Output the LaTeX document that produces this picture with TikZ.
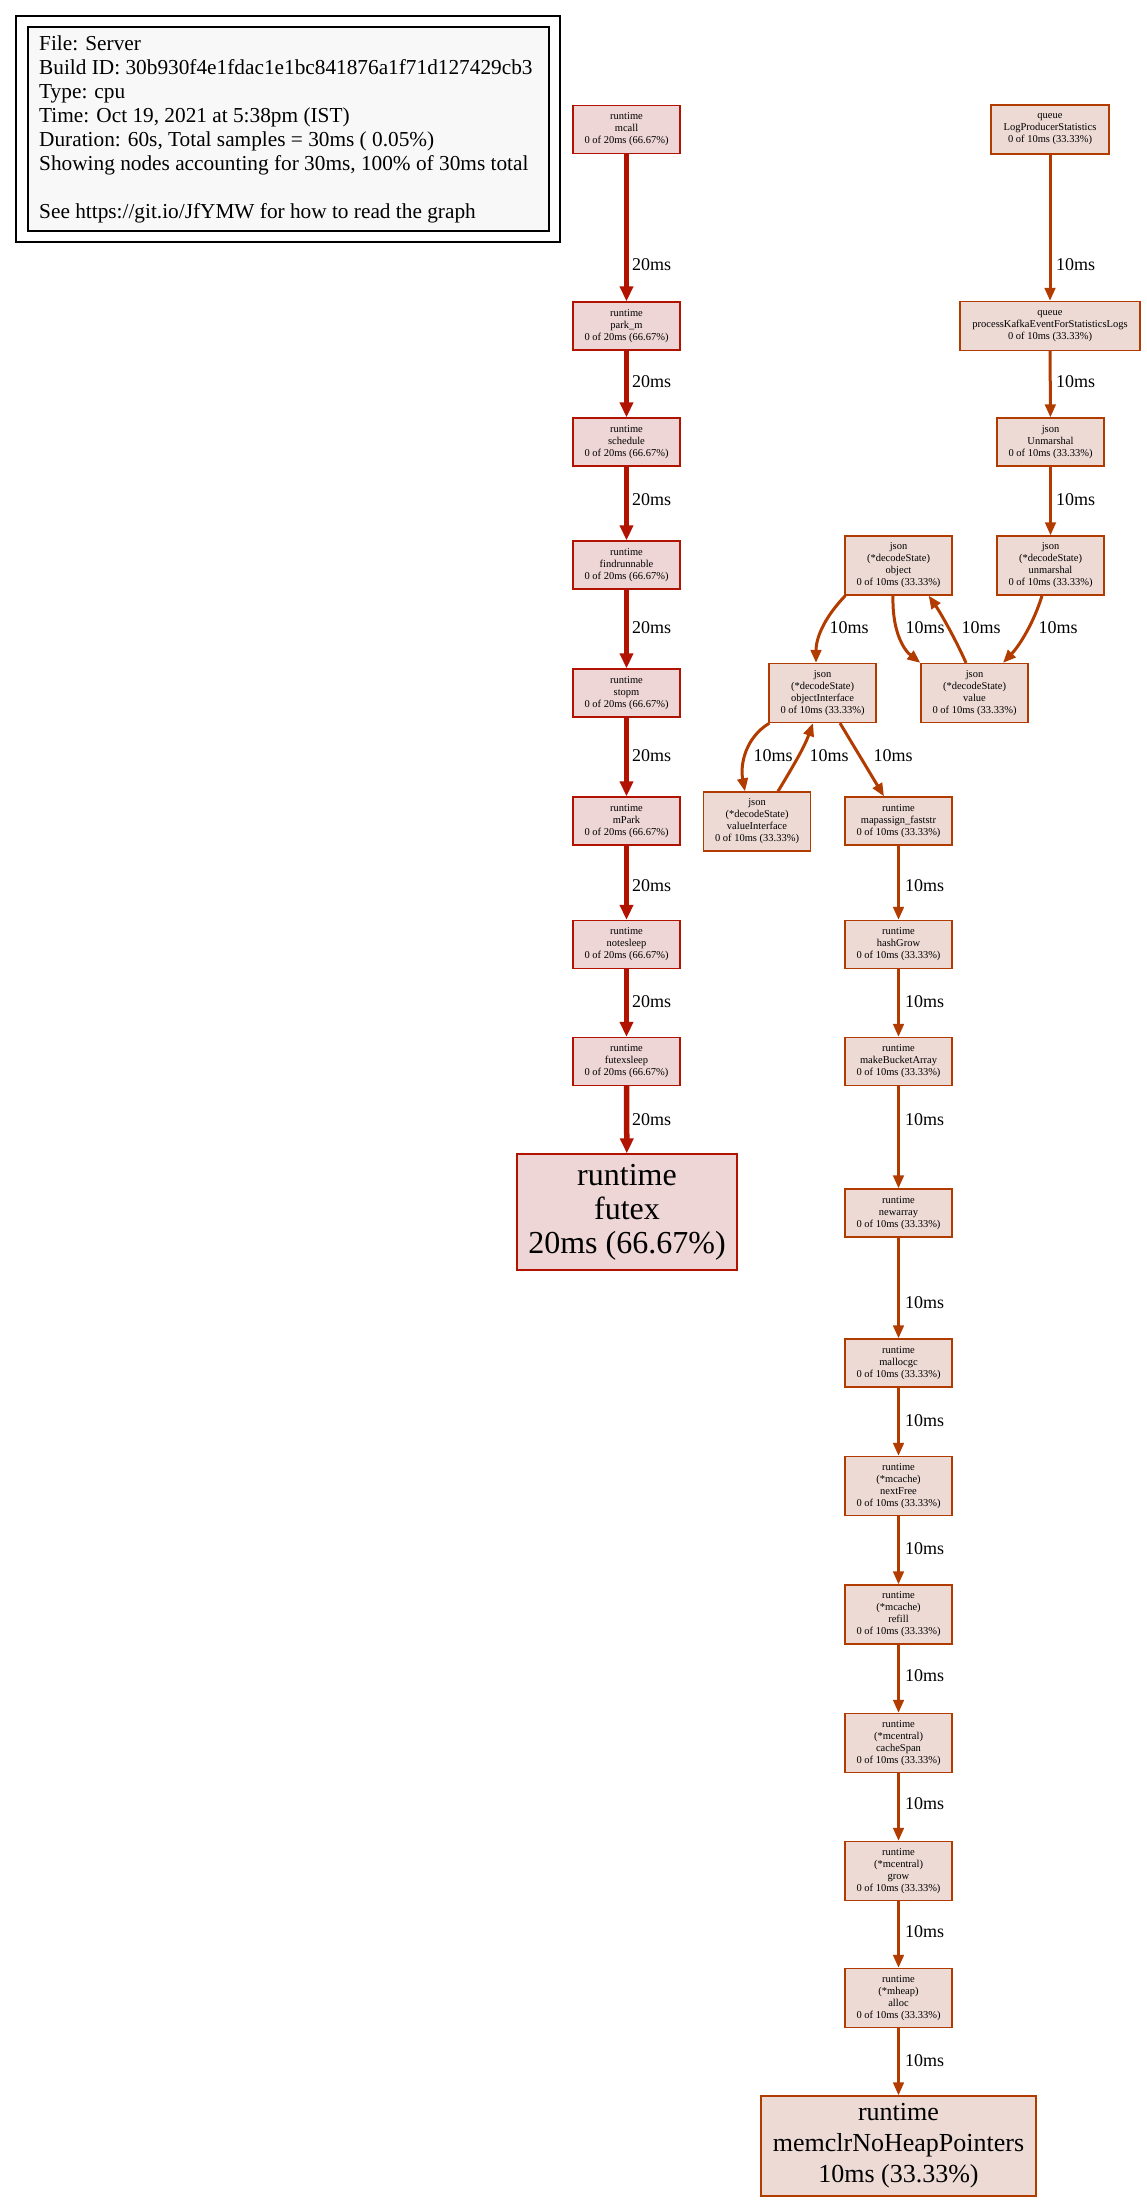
\documentclass[tikz,border=0pt]{standalone}
\usepackage{fontspec}
\setmainfont{Liberation Serif}
\usetikzlibrary{arrows.meta,calc}
\definecolor{hotfill}{HTML}{EDD6D5}
\definecolor{hotline}{HTML}{B21200}
\definecolor{warmfill}{HTML}{EDDAD5}
\definecolor{warmline}{HTML}{B23C00}
\definecolor{legendfill}{HTML}{F8F8F8}
\begin{document}
\begin{tikzpicture}[x=1pt,y=-1pt,
  fn/.style={rectangle, line width=1.3pt, inner sep=0pt, align=center,
    font=\fontsize{10.5}{12}\selectfont},
  hot/.style={fn, draw=hotline, fill=hotfill},
  warm/.style={fn, draw=warmline, fill=warmfill},
  s3/.style={minimum width=107pt, minimum height=48pt},
  s4/.style={minimum width=107pt, minimum height=59pt},
  hotedge/.style={draw=hotline, line width=5.5pt, -{Triangle[length=15pt,width=13pt]}},
  warmedge/.style={draw=warmline, line width=3pt, -{Triangle[length=13pt,width=10.5pt]}},
  elabel/.style={font=\fontsize{18}{20}\selectfont, inner sep=0pt},
]
\useasboundingbox (0,0) rectangle (1147,2200);

% legend
\node[draw=black, line width=1.2pt, minimum width=544pt, minimum height=226pt, inner sep=0pt] (legendout) at (288,129) {};
\node[draw=black, fill=legendfill, line width=1.2pt, minimum width=521pt, minimum height=204pt, inner sep=0pt] (legendin) at (288.5,129) {};
\node[anchor=north west, inner sep=0pt, align=left, font=\fontsize{21.3}{24}\selectfont] (legendtext) at (39,36)
  {File: Server\\
   Build ID: 30b930f4e1fdac1e1bc841876a1f71d127429cb3\\
   Type: cpu\\
   Time: Oct 19, 2021 at 5:38pm (IST)\\
   Duration: 60s, Total samples = 30ms ( 0.05\%)\\
   Showing nodes accounting for 30ms, 100\% of 30ms total\\[24pt]
   See https://git.io/JfYMW for how to read the graph};

% scheduler chain
\node[hot,s3] (mcall) at (626.5,129.5) {runtime\\mcall\\0 of 20ms (66.67\%)};
\node[hot,s3] (parkm) at (626.5,326) {runtime\\park\_m\\0 of 20ms (66.67\%)};
\node[hot,s3] (schedule) at (626.5,442) {runtime\\schedule\\0 of 20ms (66.67\%)};
\node[hot,s3] (findrunnable) at (626.5,565) {runtime\\findrunnable\\0 of 20ms (66.67\%)};
\node[hot,s3] (stopm) at (626.5,693) {runtime\\stopm\\0 of 20ms (66.67\%)};
\node[hot,s3] (mpark) at (626.5,821) {runtime\\mPark\\0 of 20ms (66.67\%)};
\node[hot,s3] (notesleep) at (626.5,944.5) {runtime\\notesleep\\0 of 20ms (66.67\%)};
\node[hot,s3] (futexsleep) at (626.5,1061.5) {runtime\\futexsleep\\0 of 20ms (66.67\%)};
\node[hot, minimum width=220pt, minimum height=116pt, font=\fontsize{32}{34}\selectfont] (futex) at (627,1212) {runtime\\futex\\20ms (66.67\%)};

% statistics chain
\node[warm, minimum width=118pt, minimum height=49pt] (logprod) at (1050,129.5) {queue\\LogProducerStatistics\\0 of 10ms (33.33\%)};
\node[warm, minimum width=180pt, minimum height=49pt] (kafka) at (1050,326) {queue\\processKafkaEventForStatisticsLogs\\0 of 10ms (33.33\%)};
\node[warm,s3] (unmarshalpkg) at (1050.5,442) {json\\Unmarshal\\0 of 10ms (33.33\%)};
\node[warm,s4] (unmarshal) at (1050.5,565.5) {json\\(*decodeState)\\unmarshal\\0 of 10ms (33.33\%)};
\node[warm,s4] (object) at (898.5,565.5) {json\\(*decodeState)\\object\\0 of 10ms (33.33\%)};
\node[warm,s4] (value) at (974.5,693) {json\\(*decodeState)\\value\\0 of 10ms (33.33\%)};
\node[warm,s4] (objiface) at (822.5,693) {json\\(*decodeState)\\objectInterface\\0 of 10ms (33.33\%)};
\node[warm,s4] (valiface) at (757,821.5) {json\\(*decodeState)\\valueInterface\\0 of 10ms (33.33\%)};
\node[warm,s3] (mapassign) at (898.5,821) {runtime\\mapassign\_faststr\\0 of 10ms (33.33\%)};
\node[warm,s3] (hashgrow) at (898.5,944.5) {runtime\\hashGrow\\0 of 10ms (33.33\%)};
\node[warm,s3] (bucket) at (898.5,1061.5) {runtime\\makeBucketArray\\0 of 10ms (33.33\%)};
\node[warm,s3] (newarray) at (898.5,1213) {runtime\\newarray\\0 of 10ms (33.33\%)};
\node[warm,s3] (mallocgc) at (898.5,1363) {runtime\\mallocgc\\0 of 10ms (33.33\%)};
\node[warm,s4] (nextfree) at (898.5,1486) {runtime\\(*mcache)\\nextFree\\0 of 10ms (33.33\%)};
\node[warm,s4] (refill) at (898.5,1614.5) {runtime\\(*mcache)\\refill\\0 of 10ms (33.33\%)};
\node[warm,s4] (cachespan) at (898.5,1743) {runtime\\(*mcentral)\\cacheSpan\\0 of 10ms (33.33\%)};
\node[warm,s4] (grow) at (898.5,1871) {runtime\\(*mcentral)\\grow\\0 of 10ms (33.33\%)};
\node[warm,s4] (alloc) at (898.5,1998) {runtime\\(*mheap)\\alloc\\0 of 10ms (33.33\%)};
\node[warm, minimum width=275pt, minimum height=100pt, font=\fontsize{26}{31}\selectfont] (memclr) at (898.5,2146) {runtime\\memclrNoHeapPointers\\10ms (33.33\%)};

% scheduler edges
\draw[hotedge] (mcall) -- (parkm);
\draw[hotedge] (parkm) -- (schedule);
\draw[hotedge] (schedule) -- (findrunnable);
\draw[hotedge] (findrunnable) -- (stopm);
\draw[hotedge] (stopm) -- (mpark);
\draw[hotedge] (mpark) -- (notesleep);
\draw[hotedge] (notesleep) -- (futexsleep);
\draw[hotedge] (futexsleep) -- (futex);
\foreach \y/\n in {265/h1,382/h2,500/h3,628/h4,756/h5,886/h6,1002/h7,1120/h8}
  \node[elabel, anchor=west] (\n) at (632,\y) {20ms};

% statistics edges, straight
\draw[warmedge] (logprod) -- (kafka);
\draw[warmedge] (kafka) -- (unmarshalpkg);
\draw[warmedge] (unmarshalpkg) -- (unmarshal);
\foreach \y/\n in {265/w1,382/w2,500/w3}
  \node[elabel, anchor=west] (\n) at (1056,\y) {10ms};
\draw[warmedge] (mapassign) -- (hashgrow);
\draw[warmedge] (hashgrow) -- (bucket);
\draw[warmedge] (bucket) -- (newarray);
\draw[warmedge] (newarray) -- (mallocgc);
\draw[warmedge] (mallocgc) -- (nextfree);
\draw[warmedge] (nextfree) -- (refill);
\draw[warmedge] (refill) -- (cachespan);
\draw[warmedge] (cachespan) -- (grow);
\draw[warmedge] (grow) -- (alloc);
\draw[warmedge] (alloc) -- (memclr);
\foreach \y/\n in {886/r1,1002/r2,1120/r3,1303/r4,1421/r5,1549/r6,1676/r7,1804/r8,1932/r9,2061/r10}
  \node[elabel, anchor=west] (\n) at (905,\y) {10ms};

% decoder edges, curved
\draw[warmedge] ([xshift=1pt]object.south west) .. controls (822,620) and (816,640) .. ([xshift=-6.5pt]objiface.north);
\draw[warmedge] ([xshift=-5.5pt]object.south) .. controls (892,632) and (904,650) .. (value.north west);
\draw[warmedge] ([xshift=-8.5pt]value.north) .. controls (955,638) and (940,612) .. ([xshift=-24pt]object.south east);
\draw[warmedge] ([xshift=-8.5pt]unmarshal.south) .. controls (1034,622) and (1020,645) .. ([xshift=28.5pt]value.north);
\draw[warmedge] ([xshift=1pt]objiface.south west) .. controls (745,738) and (740,765) .. ([xshift=-12pt]valiface.north);
\draw[warmedge] ([xshift=21pt]valiface.north) .. controls (792,768) and (804,748) .. ([xshift=-9.5pt]objiface.south);
\draw[warmedge] ([xshift=17.5pt]objiface.south) -- ([xshift=-14.5pt]mapassign.north);
\node[elabel] (d1) at (849,628) {10ms};
\node[elabel] (d2) at (925,628) {10ms};
\node[elabel] (d3) at (981,628) {10ms};
\node[elabel] (d4) at (1058,628) {10ms};
\node[elabel] (d5) at (773,756) {10ms};
\node[elabel] (d6) at (829,756) {10ms};
\node[elabel] (d7) at (893,756) {10ms};
\end{tikzpicture}
\end{document}
